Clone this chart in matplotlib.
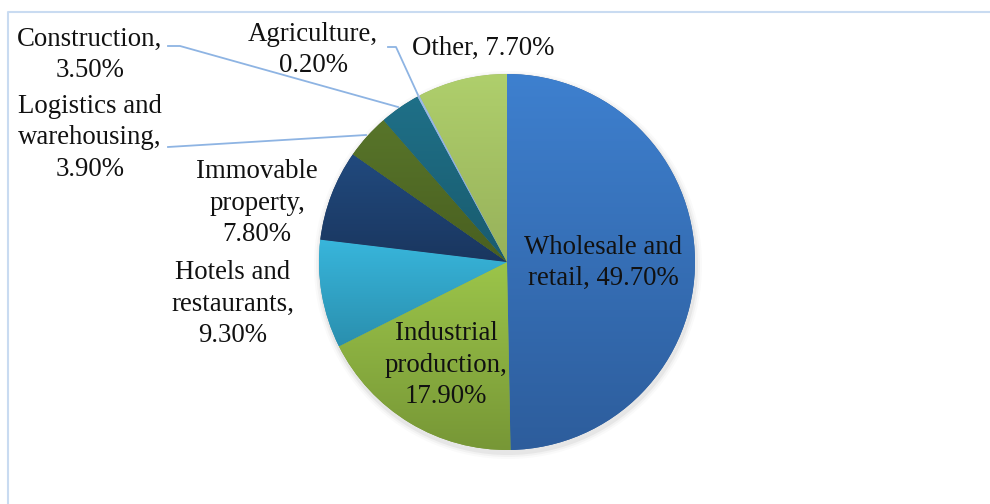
import numpy as np
import matplotlib.pyplot as plt
from matplotlib.colors import LinearSegmentedColormap

# shares by sector, clockwise from 12 o'clock
sectors = ["Wholesale and\nretail", "Industrial\nproduction", "Hotels and\nrestaurants",
           "Immovable\nproperty", "Logistics and\nwarehousing", "Construction",
           "Agriculture", "Other"]
shares = [49.7, 17.9, 9.3, 7.8, 3.9, 3.5, 0.2, 7.7]
seps = [", ", ",\n", ",\n", ",\n", ",\n", ",\n", ",\n", ", "]

# top / bottom colours of each wedge gradient
top_cols = ["#3E80CF", "#9CC54A", "#38B6DC", "#214A7E", "#58752A", "#1F7088", "#9DBCE6", "#AFCF6C"]
bot_cols = ["#2D5D9C", "#779736", "#2A8FAE", "#1A365F", "#495F20", "#195B6E", "#7FA2D0", "#97B15A"]

W, H = 990, 504
fig = plt.figure(figsize=(W / 100, H / 100), dpi=100)
ax = fig.add_axes([0, 0, 1, 1])

cx, cy, r = 507, H - 262, 188

# soft shadow under the pie
for grow, a in [(6, 0.04), (4, 0.06), (2, 0.10)]:
    ax.add_patch(plt.Circle((cx + 1, cy - 3), r + grow, color="#808080", alpha=a, lw=0, zorder=0))

wedges, _ = ax.pie(shares, startangle=90, counterclock=False, center=(cx, cy), radius=r,
                   colors=bot_cols, wedgeprops=dict(linewidth=0), frame=True)
ax.set_xlim(0, W)
ax.set_ylim(0, H)
ax.set_aspect("equal")
ax.axis("off")

for w, c1, c2 in zip(wedges, top_cols, bot_cols):
    ext = w.get_path().get_extents(w.get_transform()).transformed(ax.transData.inverted())
    cmap = LinearSegmentedColormap.from_list("g", [c2, c1])
    grad = np.linspace(0, 1, 256).reshape(-1, 1)
    im = ax.imshow(grad, cmap=cmap, origin="lower", aspect="auto",
                   extent=[ext.x0, ext.x1, ext.y0, ext.y1], zorder=2)
    im.set_clip_path(w)

labels = [f"{s}{sep}{v:.2f}%" for s, sep, v in zip(sectors, seps, shares)]

# label centres in pixel coords (x, y from top)
label_pos = [(603, 263), (446, 365), (233, 304), (257, 203), (90, 138), (90, 55), (313, 50), (483, 48)]

for lab, (x, y) in zip(labels, label_pos):
    ax.text(x, H - y, lab, ha="center", va="center", fontsize=19.3, family="Liberation Serif",
            linespacing=1.32, color="#111111", zorder=5)

# leader lines
lc = "#8EB4E3"
ax.plot([168, 180, 398], [H - 46, H - 46, H - 107], color=lc, lw=1.3, zorder=4)
ax.plot([168, 366], [H - 147, H - 135], color=lc, lw=1.3, zorder=4)
ax.plot([388, 396, 418], [H - 47, H - 47, H - 95], color=lc, lw=1.3, zorder=4)

# chart area border
bc = "#C9DBF1"
ax.plot([8, 8, W], [0, H - 12, H - 12], color=bc, lw=1.5, zorder=1)

fig.savefig("out.png", dpi=100)
